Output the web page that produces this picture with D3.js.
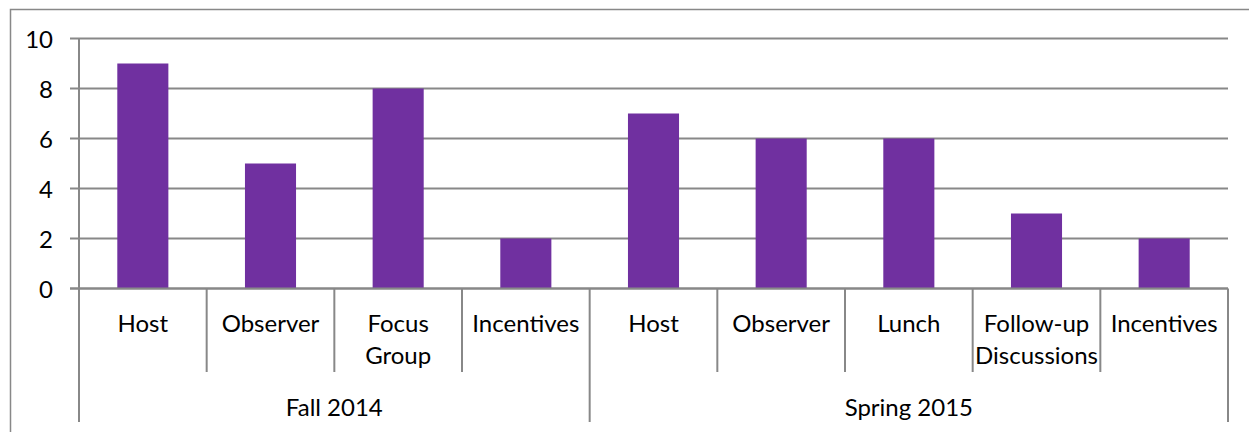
<!DOCTYPE html>
<html>
<head>
<meta charset="utf-8">
<title>Bar chart</title>
<script src="https://d3js.org/d3.v7.min.js"></script>
<style>
html, body { margin: 0; padding: 0; background: #fff; }
svg { display: block; font-family: Lato, "Open Sans", sans-serif; }
.lbl { font-size: 24px; fill: #000; }
</style>
</head>
<body>
<script>
// data
const groups = ['Fall 2014', 'Spring 2015'];
const categories = ['Host', 'Observer', 'Focus\nGroup', 'Incentives', 'Host', 'Observer', 'Lunch', 'Follow-up\nDiscussions', 'Incentives'];
const groupOf = [0, 0, 0, 0, 1, 1, 1, 1, 1];
const values = [9, 5, 8, 2, 7, 6, 6, 3, 2];
const yTicks = [0, 2, 4, 6, 8, 10];

const w = 1249, h = 432;
const plotLeft = 79, plotRight = 1228, plotTop = 38.5, plotBottom = 288.5;
const gridColor = '#888888';

const svg = d3.select('body').append('svg').attr('width', w).attr('height', h);

// chart border (runs off the right and bottom edge)
svg.append('rect')
    .attr('x', 10.5).attr('y', 9.5).attr('width', 1260).attr('height', 440)
    .attr('fill', 'none').attr('stroke', gridColor).attr('stroke-width', 1.5);

const y = d3.scaleLinear().domain([0, 10]).range([plotBottom, plotTop]);
const x = d3.scaleBand().domain(d3.range(categories.length)).range([plotLeft, plotRight]).padding(0);

// gridlines + tick labels
svg.selectAll('.grid').data(yTicks).enter().append('line')
    .attr('x1', plotLeft - 9).attr('x2', plotRight)
    .attr('y1', d => y(d)).attr('y2', d => y(d))
    .attr('stroke', gridColor).attr('stroke-width', 2);

svg.selectAll('.ylbl').data(yTicks).enter().append('text')
    .attr('class', 'lbl')
    .attr('x', plotLeft - 26).attr('y', d => y(d))
    .attr('text-anchor', 'end').attr('dominant-baseline', 'central')
    .text(d => d);

// y axis line
svg.append('line')
    .attr('x1', plotLeft).attr('x2', plotLeft).attr('y1', plotTop).attr('y2', plotBottom)
    .attr('stroke', gridColor).attr('stroke-width', 2);

// bars
const bw = x.bandwidth() * 0.4;
svg.selectAll('.bar').data(values).enter().append('rect')
    .attr('x', (d, i) => x(i) + (x.bandwidth() - bw) / 2)
    .attr('y', d => y(d))
    .attr('width', bw)
    .attr('height', d => y(0) - y(d))
    .attr('fill', '#7030A0');

// x axis line drawn over bars
svg.append('line')
    .attr('x1', plotLeft - 9).attr('x2', plotRight).attr('y1', plotBottom).attr('y2', plotBottom)
    .attr('stroke', gridColor).attr('stroke-width', 2);

// category separators
const bounds = d3.range(categories.length + 1);
svg.selectAll('.sep').data(bounds).enter().append('line')
    .attr('x1', i => i < categories.length ? x(i) : plotRight)
    .attr('x2', i => i < categories.length ? x(i) : plotRight)
    .attr('y1', plotBottom)
    .attr('y2', i => (i === 0 || i === categories.length || groupOf[i] !== groupOf[i - 1]) ? 422 : 372)
    .attr('stroke', gridColor).attr('stroke-width', 2);

// category labels
categories.forEach((c, i) => {
    const t = svg.append('text').attr('class', 'lbl').attr('text-anchor', 'middle');
    c.split('\n').forEach((line, k) => {
        t.append('tspan')
            .attr('x', x(i) + x.bandwidth() / 2)
            .attr('y', 322 + k * 32)
            .attr('dominant-baseline', 'central')
            .text(line);
    });
});

// group labels
groups.forEach((g, gi) => {
    const idx = d3.range(categories.length).filter(i => groupOf[i] === gi);
    const x0 = x(idx[0]);
    const x1 = x(idx[idx.length - 1]) + x.bandwidth();
    svg.append('text').attr('class', 'lbl')
        .attr('x', (x0 + x1) / 2).attr('y', 406)
        .attr('text-anchor', 'middle').attr('dominant-baseline', 'central')
        .text(g);
});
</script>
</body>
</html>
